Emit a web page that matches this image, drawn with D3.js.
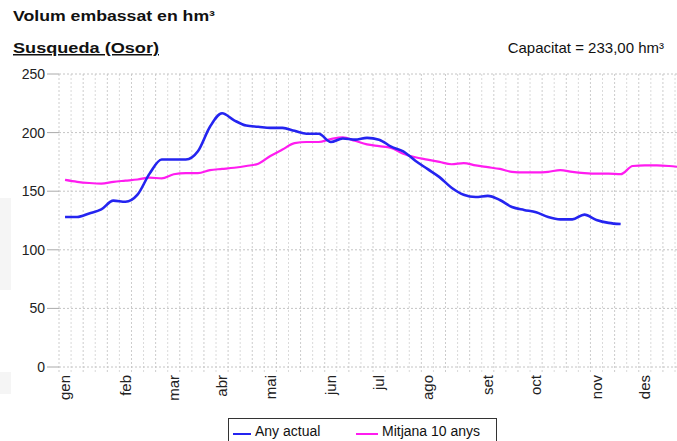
<!DOCTYPE html>
<html>
<head>
<meta charset="utf-8">
<script src="https://cdn.jsdelivr.net/npm/d3@7"></script>
<style>
  body { margin: 0; background: #fff; }
  svg { display: block; font-family: "Liberation Sans", Arial, sans-serif; }
</style>
</head>
<body>
<div id="chart"></div>
<script>
// month labels and the week where each label sits
var months = ["gen", "feb", "mar", "abr", "mai", "jun", "jul", "ago", "set", "oct", "nov", "des"];
var monthWeeks = [0, 5, 9, 13, 17, 22, 26, 30, 35, 39, 44, 48];

var yTicks = [0, 50, 100, 150, 200, 250];

// weekly volume, hm3
var anyActual = [128, 128, 131, 134.5, 142, 141, 147, 165, 177, 177, 177, 184, 205, 216.5,
  210.5, 206, 205, 204, 204, 201.5, 199, 199, 192, 195, 194, 195.5, 194, 188, 184, 176,
  169, 162, 153, 147, 145, 146, 142.5, 136.5, 134, 132, 128, 126, 126, 130, 125.5, 123, 122];

var mitjana = [159.6, 158, 157, 156.5, 158, 159, 160, 161.5, 161, 164.5, 165.5, 165.5, 168,
  169, 170, 171.5, 173.5, 180, 185.5, 191, 192, 192, 194.5, 196, 193, 190, 188.5, 187, 182,
  179, 177, 175, 173, 174, 172, 170.5, 169, 166.5, 166, 166, 166.5, 168, 166.5, 165.5, 165,
  165, 164.5, 171.5, 172, 172, 171.5, 170.5];

var W = 677, H = 441;
var svg = d3.select("#chart").append("svg").attr("width", W).attr("height", H);

// faint grey smudge at the left edge of the scan
svg.append("rect").attr("x", 0).attr("y", 198).attr("width", 11).attr("height", 92).attr("fill", "#f5f5f5");
svg.append("rect").attr("x", 0).attr("y", 372).attr("width", 11).attr("height", 22).attr("fill", "#f5f5f5");

var x = d3.scaleLinear().domain([0, 51]).range([59, 675]);
var y = d3.scaleLinear().domain([0, 250]).range([367, 74]);

// titles
svg.append("text").attr("x", 13).attr("y", 21)
  .attr("font-size", 15).attr("font-weight", "bold").attr("fill", "#111")
  .attr("textLength", 202).attr("lengthAdjust", "spacingAndGlyphs")
  .text("Volum embassat en hm³");
svg.append("text").attr("x", 13).attr("y", 53)
  .attr("font-size", 15).attr("font-weight", "bold").attr("fill", "#111")
  .attr("text-decoration", "underline")
  .attr("textLength", 146).attr("lengthAdjust", "spacingAndGlyphs")
  .text("Susqueda (Osor)");
svg.append("text").attr("x", 664).attr("y", 53)
  .attr("font-size", 15).attr("text-anchor", "end").attr("fill", "#111")
  .text("Capacitat = 233,00 hm³");

// grid
var grid = svg.append("g");
d3.range(0, 52).forEach(function (k) {
  grid.append("line")
    .attr("x1", x(k)).attr("x2", x(k))
    .attr("y1", y(250)).attr("y2", y(0) + 6)
    .attr("stroke", k % 2 ? "#dadada" : "#cccccc")
    .attr("stroke-dasharray", "2,2");
});
yTicks.forEach(function (t) {
  grid.append("line")
    .attr("x1", x(0)).attr("x2", W)
    .attr("y1", y(t)).attr("y2", y(t))
    .attr("stroke", "#c4c4c4")
    .attr("stroke-dasharray", "2,2");
  grid.append("line")
    .attr("x1", 47).attr("x2", x(0))
    .attr("y1", y(t)).attr("y2", y(t))
    .attr("stroke", "#aaa");
  svg.append("text")
    .attr("x", 45).attr("y", y(t)).attr("dy", "0.35em")
    .attr("text-anchor", "end").attr("font-size", 14).attr("fill", "#222")
    .text(t);
});

// month labels
months.forEach(function (m, i) {
  svg.append("text")
    .attr("transform", "translate(" + (x(monthWeeks[i]) + 6) + ",375) rotate(-90)")
    .attr("dy", "0.35em")
    .attr("text-anchor", "end").attr("font-size", 15).attr("fill", "#222")
    .text(m);
});

// lines
var line = d3.line()
  .curve(d3.curveMonotoneX)
  .x(function (d, i) { return x(i + 0.5); })
  .y(function (d) { return y(d); });

svg.append("path").datum(mitjana)
  .attr("d", line).attr("fill", "none")
  .attr("stroke", "#ff1cf0").attr("stroke-width", 2.2).attr("stroke-linejoin", "round");
svg.append("path").datum(anyActual)
  .attr("d", line).attr("fill", "none")
  .attr("stroke", "#2424f0").attr("stroke-width", 2.6).attr("stroke-linejoin", "round");

// legend
var lg = svg.append("g");
lg.append("rect").attr("x", 228.5).attr("y", 418.5).attr("width", 268).attr("height", 30)
  .attr("fill", "#fff").attr("stroke", "#333");
lg.append("line").attr("x1", 233).attr("x2", 251).attr("y1", 434).attr("y2", 434)
  .attr("stroke", "#2424f0").attr("stroke-width", 2);
lg.append("text").attr("x", 255).attr("y", 436).attr("font-size", 14).attr("fill", "#111").text("Any actual");
lg.append("line").attr("x1", 356).attr("x2", 378).attr("y1", 434).attr("y2", 434)
  .attr("stroke", "#ff1cf0").attr("stroke-width", 2);
lg.append("text").attr("x", 382).attr("y", 436).attr("font-size", 14).attr("fill", "#111").text("Mitjana 10 anys");
</script>
</body>
</html>
